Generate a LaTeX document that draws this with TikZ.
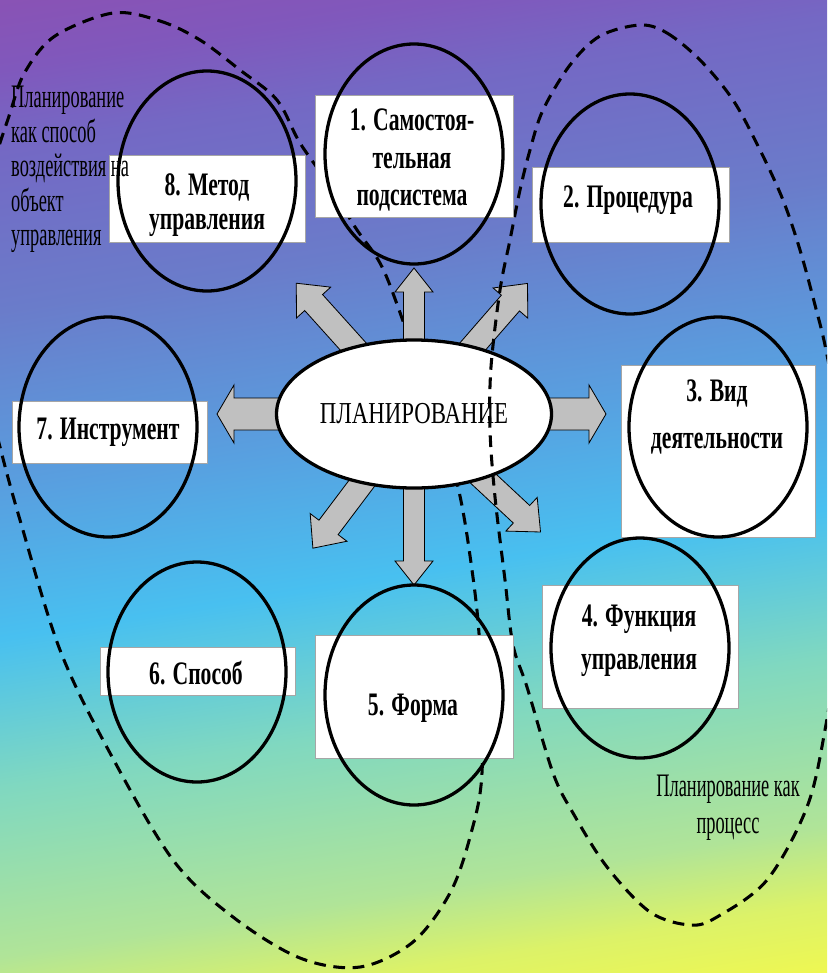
\documentclass[tikz,border=0pt]{standalone}
\usepackage{fontspec}
\setmainfont{Liberation Serif}
\newfontfamily\boldlbl[FakeStretch=0.66]{Liberation Serif Bold}
\newfontfamily\reglbl[FakeStretch=0.56]{Liberation Serif}
\newfontfamily\ctrfont[FakeStretch=0.75]{Liberation Serif}
\usetikzlibrary{shapes.geometric}
\definecolor{bgA}{HTML}{8A52B4}
\definecolor{bgB}{HTML}{8058BC}
\definecolor{bgC}{HTML}{7468C4}
\definecolor{bgD}{HTML}{6A7CCA}
\definecolor{bgE}{HTML}{58A0E0}
\definecolor{bgF}{HTML}{48C0F0}
\definecolor{bgG}{HTML}{80D8C0}
\definecolor{bgH}{HTML}{B0E498}
\definecolor{bgI}{HTML}{DCF268}
\definecolor{bgJ}{HTML}{F0F850}
\definecolor{arrgray}{HTML}{C0C0C0}
\pgfdeclareverticalshading{bgshade}{100bp}{color(0bp)=(bgJ); color(21bp)=(bgJ); color(25bp)=(bgI); color(29bp)=(bgH); color(37.75bp)=(bgG); color(45.5bp)=(bgF); color(53bp)=(bgE); color(62.5bp)=(bgD); color(71bp)=(bgC); color(75bp)=(bgB); color(79bp)=(bgA); color(100bp)=(bgA)}
\newcommand{\blockarr}[6]{%
  \begin{scope}[shift={#1}, rotate=#2]
    \draw[arrowshape] (0,-#4) -- ({#3-#6},-#4) -- ({#3-#6},-#5) -- (#3,0) -- ({#3-#6},#5) -- ({#3-#6},#4) -- (0,#4) -- cycle;
  \end{scope}}
\tikzset{
  arrowshape/.style={fill=arrgray, draw=black, line width=0.7pt, line join=miter},
  dashline/.style={draw=black, line width=2.6pt, dash pattern=on 10pt off 6.5pt},
  whitebox/.style={rectangle, fill=white, draw=black!35, line width=0.5pt, inner sep=0pt, outer sep=0pt},
  ring/.style={ellipse, draw=black, line width=2.8pt, inner sep=0pt, minimum width=5.34cm, minimum height=6.6cm},
  boldtext/.style={font=\boldlbl\fontsize{28}{#1}\selectfont, align=center, inner sep=0pt, text=black},
  boldtext/.default=32,
  regtext/.style={font=\reglbl\fontsize{28}{#1}\selectfont, inner sep=0pt, text=black},
  regtext/.default=30,
  center ellipse/.style={ellipse, draw=black, fill=white, line width=2.8pt, inner sep=0pt, minimum width=8.25cm, minimum height=4.44cm, font=\ctrfont\fontsize{26}{28}\selectfont}
}
\begin{document}
\begin{tikzpicture}[x=0.03cm, y=-0.03cm]
\useasboundingbox (0,0) rectangle (827,973);
\clip (0,0) rectangle (827,973);
\shade[shading=bgshade, shading angle=9] (0,0) rectangle (827,973);

% left dashed loop (below arrows and ellipse)
\draw[dashline] plot[smooth cycle, tension=0.55] coordinates {
 (113,13) (160,21) (200,40) (240,70) (277,100) (300,143) (333,190) (355,227) (380,263) (398,307) (428,395) (457,483) (472,570) (480,650) (482,773) (470,837) (450,893) (413,942) (360,967) (300,958) (233,917) (173,860) (110,753) (60,650) (20,520) (0,447) (-16,380) (-24,300) (-16,200) (10,113) (25,72) (55,36)};

\coordinate (cen) at (414,414);
% block arrows
\blockarr{(cen)}{90}{146}{10.5}{19}{24}
\blockarr{(cen)}{-90}{171}{10.5}{19}{24}
\blockarr{(cen)}{180}{197}{16}{29}{17}
\blockarr{(cen)}{0}{192}{16}{29}{17}
\blockarr{(cen)}{132}{176}{12}{23}{26}
\blockarr{(cen)}{49}{173}{12}{23}{26}
\blockarr{(cen)}{-127}{168}{12}{23}{26}
\blockarr{(cen)}{-43}{173}{12}{23}{26}

\node[center ellipse] (plan) at (cen) {\raisebox{-1pt}{ПЛАНИРОВАНИЕ}};

% right dashed loop (above ellipse)
\draw[dashline] plot[smooth cycle, tension=0.55] coordinates {
 (640,25) (667,33) (700,60) (733,100) (760,150) (783,200) (800,250) (815,305) (826,350) (840,430) (846,530) (838,640) (825,730) (807,807) (767,880) (717,917) (690,925) (650,912) (607,867) (573,813) (553,773) (527,687) (513,645) (505,580) (495,497) (490,430) (491,367) (500,290) (510,240) (520,190) (530,150) (543,110) (570,65) (600,36)};

% white boxes
\node[whitebox, minimum width=5.94cm, minimum height=3.66cm] (b1) at (414,156) {};
\node[whitebox, minimum width=5.91cm, minimum height=2.25cm] (b2) at (630.5,204.5) {};
\node[whitebox, minimum width=5.82cm, minimum height=5.16cm] (b3) at (718,451) {};
\node[whitebox, minimum width=5.88cm, minimum height=3.69cm] (b4) at (640,646.5) {};
\node[whitebox, minimum width=5.94cm, minimum height=3.69cm] (b5) at (414,696.5) {};
\node[whitebox, minimum width=5.85cm, minimum height=1.44cm] (b6) at (197.5,671) {};
\node[whitebox, minimum width=5.85cm, minimum height=1.86cm] (b7) at (109.5,432) {};
\node[whitebox, minimum width=5.88cm, minimum height=2.61cm] (b8) at (207,198.5) {};

% rings
\node[ring] (c1) at (414,154) {};
\node[ring] (c2) at (630,204) {};
\node[ring] (c3) at (718,427) {};
\node[ring] (c4) at (640,648) {};
\node[ring] (c5) at (414,695) {};
\node[ring] (c6) at (197,672) {};
\node[ring] (c7) at (108,427) {};
\node[ring] (c8) at (207,181) {};

% labels
\node[boldtext=32] (t1) at (412,160) {1. Самостоя-\\тельная\\подсистема};
\node[boldtext] (t2) at (628,200) {2. Процедура};
\node[boldtext=40] (t3) at (717,417) {3. Вид\\деятельности};
\node[boldtext=36.7] (t4) at (639,641) {4. Функция\\управления};
\node[boldtext] (t5) at (413,708) {5. Форма};
\node[boldtext] (t6) at (196,673) {6. Способ};
\node[boldtext] (t7) at (108,432) {7. Инструмент};
\node[boldtext=29] (t8) at (207,205) {8. Метод\\управления};

\node[regtext=29.5, align=left, anchor=north west] (lblL) at (11,86) {Планирование\\как способ\\воздействия на\\объект\\управления};
\node[regtext=31.5, align=center] (lblR) at (728,808) {Планирование как\\процесс};
\end{tikzpicture}
\end{document}
